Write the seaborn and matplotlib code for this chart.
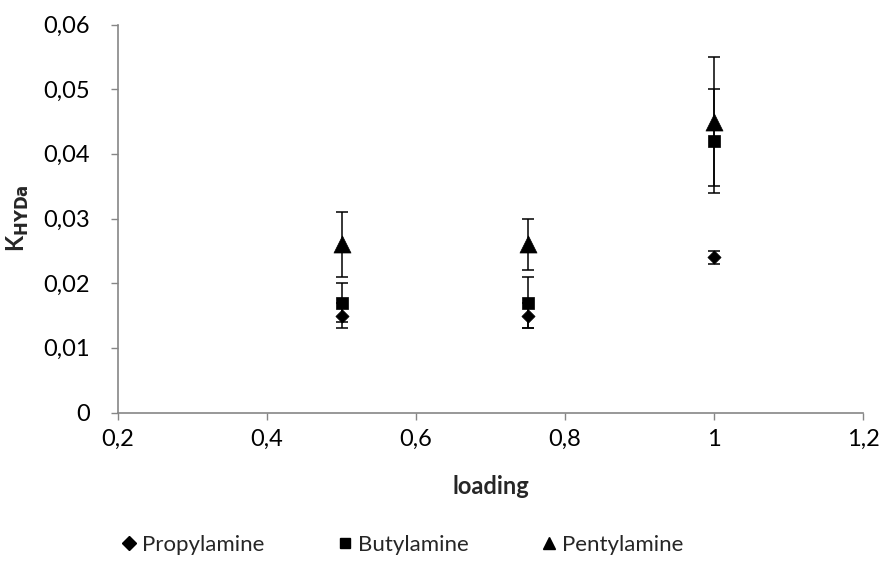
import matplotlib
matplotlib.use("Agg")
import matplotlib.pyplot as plt
import matplotlib.ticker as mticker
import numpy as np
import pandas as pd
import seaborn as sns

# Measured hydrolysis constants versus amine loading
loading = [0.5, 0.75, 1.0]
series_names = ["Propylamine", "Butylamine", "Pentylamine"]
propyl_k = [0.015, 0.015, 0.024]
propyl_err = [0.002, 0.002, 0.001]
butyl_k = [0.017, 0.017, 0.042]
butyl_err = [0.003, 0.004, 0.008]
pentyl_k = [0.026, 0.026, 0.045]
pentyl_err = [0.005, 0.004, 0.010]

x_ticks = [0.2, 0.4, 0.6, 0.8, 1.0, 1.2]
y_ticks = [0, 0.01, 0.02, 0.03, 0.04, 0.05, 0.06]

df = pd.concat([
    pd.DataFrame({"loading": loading, "k": propyl_k, "err": propyl_err, "amine": series_names[0]}),
    pd.DataFrame({"loading": loading, "k": butyl_k, "err": butyl_err, "amine": series_names[1]}),
    pd.DataFrame({"loading": loading, "k": pentyl_k, "err": pentyl_err, "amine": series_names[2]}),
], ignore_index=True)

sns.set_theme(style="white")
plt.rcParams["font.family"] = ["Lato", "DejaVu Sans"]

fig = plt.figure(figsize=(8.84, 5.61), dpi=100)
ax = fig.add_axes([118 / 884, 1 - 412.5 / 561, (863 - 118) / 884, (412.5 - 24.5) / 561])

markers = {"Propylamine": "D", "Butylamine": "s", "Pentylamine": "^"}
sizes = {"Propylamine": 45, "Butylamine": 75, "Pentylamine": 150}

for name in series_names:
    sub = df[df["amine"] == name]
    ax.errorbar(sub["loading"], sub["k"], yerr=sub["err"], fmt="none",
                ecolor="black", elinewidth=1.1, capsize=4.5, capthick=1.1, zorder=2)
    sns.scatterplot(data=sub, x="loading", y="k", marker=markers[name],
                    s=sizes[name], color="black", edgecolor="black",
                    linewidth=0.5, ax=ax, zorder=3, label=name, legend=False)

ax.set_xlim(0.2, 1.2)
ax.set_ylim(0, 0.06)
ax.set_xticks(x_ticks)
ax.set_yticks(y_ticks)

def comma_fmt(v, pos):
    s = f"{v:.2f}".rstrip("0").rstrip(".")
    return s.replace(".", ",")

ax.xaxis.set_major_formatter(mticker.FuncFormatter(comma_fmt))
ax.yaxis.set_major_formatter(mticker.FuncFormatter(comma_fmt))

for side in ["top", "right"]:
    ax.spines[side].set_visible(False)
for side in ["left", "bottom"]:
    ax.spines[side].set_color("#868686")
    ax.spines[side].set_linewidth(1.2)

ax.tick_params(axis="both", which="major", direction="out", length=5, width=1,
               color="#868686", labelsize=17, labelcolor="black")
ax.tick_params(axis="x", bottom=True, pad=7)
ax.tick_params(axis="y", left=True, pad=15)

ax.set_xlabel("loading", fontsize=17, fontweight="bold", labelpad=18)
ax.set_ylabel(r"K$_\mathbf{HYDa}$", fontsize=17, fontweight="bold", labelpad=9)

handles = [
    plt.Line2D([], [], marker="D", linestyle="none", color="black", markersize=7),
    plt.Line2D([], [], marker="s", linestyle="none", color="black", markersize=7.5),
    plt.Line2D([], [], marker="^", linestyle="none", color="black", markersize=9),
]
fig.legend(handles, series_names, loc="center", bbox_to_anchor=(403 / 884, 1 - 545 / 561),
           ncol=3, frameon=False, fontsize=16, handlelength=0.6, handletextpad=0.3,
           columnspacing=3.3)

fig.savefig("out.png", dpi=100)
